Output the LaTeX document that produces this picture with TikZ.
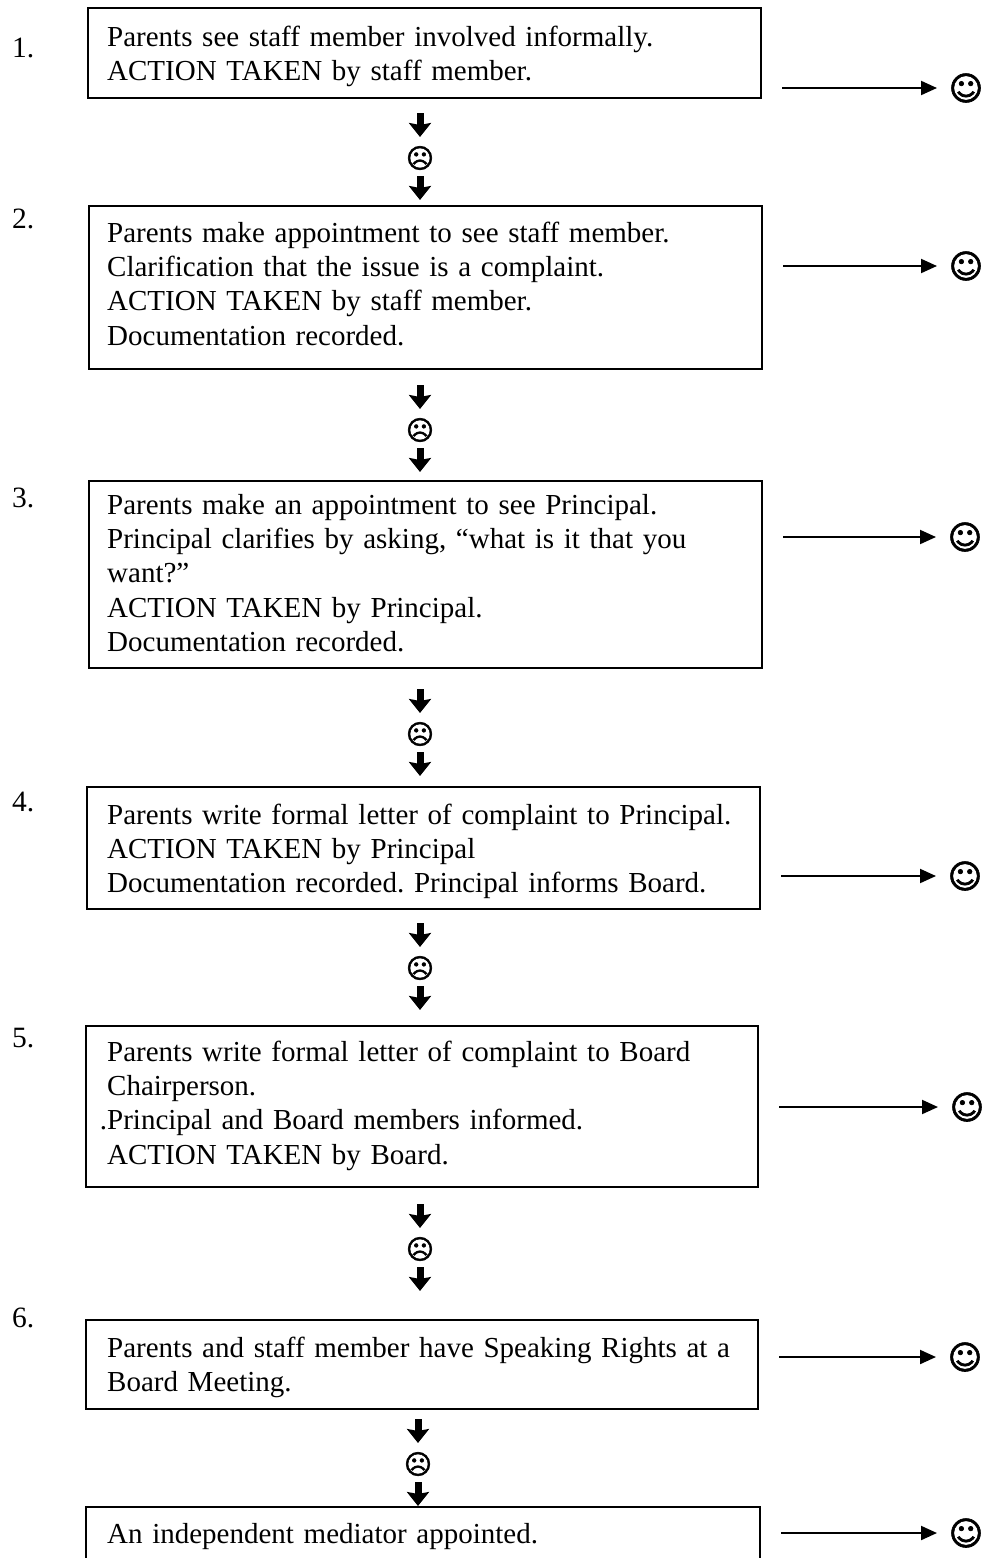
\documentclass[tikz,border=0pt]{standalone}
\usepackage{fontspec}
\setmainfont{Liberation Serif}
\newfontfamily\symf{DejaVu Sans}[FakeBold=2]
\usetikzlibrary{arrows.meta}
\tikzset{
  box/.style={draw, line width=2pt, inner sep=0pt, anchor=north west},
  txt/.style={anchor=base west, inner sep=0pt, text width=660pt, align=left,
    font=\fontsize{29}{34.4}\selectfont\frenchspacing},
  num/.style={anchor=base west, inner sep=0pt, font=\fontsize{29.5}{34.4}\selectfont},
  happy/.style={inner sep=0pt, font=\symf\fontsize{33}{33}\selectfont},
  sad/.style={inner sep=0pt, font=\symf\fontsize{27}{27}\selectfont},
  dn/.style={line width=7pt, -{Stealth[length=14pt,width=22pt,inset=2pt]}},
  rarr/.style={line width=2pt, -{Triangle[length=16pt,width=14pt]}, shorten <=20pt, shorten >=29pt}
}
\begin{document}
\begin{tikzpicture}[x=1pt,y=-1pt]
\clip (0,0) rectangle (986,1558);
\fill[white] (0,0) rectangle (986,1558);
% boxes
\node[box, minimum width=673pt, minimum height=90pt] (b1) at (87,7) {};
\node[box, minimum width=673pt, minimum height=163pt] (b2) at (88,205) {};
\node[box, minimum width=673pt, minimum height=187pt] (b3) at (88,480) {};
\node[box, minimum width=673pt, minimum height=122pt] (b4) at (86,786) {};
\node[box, minimum width=672pt, minimum height=161pt] (b5) at (85,1025) {};
\node[box, minimum width=672pt, minimum height=89pt] (b6) at (85,1319) {};
\node[box, minimum width=674pt, minimum height=120pt] (b7) at (85,1506) {};
% texts
\node[txt] (t1) at (107,46) {Parents see staff member involved informally.\\ACTION TAKEN by staff member.};
\node[txt] (t2) at (107,242) {Parents make appointment to see staff member.\\Clarification that the issue is a complaint.\\ACTION TAKEN by staff member.\\Documentation recorded.};
\node[txt] (t3) at (107,514) {Parents make an appointment to see Principal.\\Principal clarifies by asking, “what is it that you\\want?”\\ACTION TAKEN by Principal.\\Documentation recorded.};
\node[txt] (t4) at (107,824) {Parents write formal letter of complaint to Principal.\\ACTION TAKEN by Principal\\Documentation recorded. Principal informs Board.};
\node[txt] (t5) at (107,1061) {Parents write formal letter of complaint to Board\\Chairperson.\\\leavevmode\llap{.}Principal and Board members informed.\\ACTION TAKEN by Board.};
\node[txt] (t6) at (107,1357) {Parents and staff member have Speaking Rights at a\\Board Meeting.};
\node[txt] (t7) at (107,1543) {An independent mediator appointed.};
% numbers
\node[num] (n1) at (12,57) {1.};
\node[num] (n2) at (12,228) {2.};
\node[num] (n3) at (12,507) {3.};
\node[num] (n4) at (12,811) {4.};
\node[num] (n5) at (12,1047) {5.};
\node[num] (n6) at (12,1327) {6.};
% frowns
\node[sad] (f1) at (420,158) {☹};
\node[sad] (f2) at (420,430) {☹};
\node[sad] (f3) at (420,734) {☹};
\node[sad] (f4) at (420,968) {☹};
\node[sad] (f5) at (420,1249) {☹};
\node[sad] (f6) at (418,1464) {☹};
\foreach \f in {f1,f2,f3,f4,f5,f6}{
  \draw[dn] ([yshift=45pt]\f.center) -- ([yshift=21pt]\f.center);
  \draw[dn] ([yshift=-18pt]\f.center) -- ([yshift=-42pt]\f.center);
}
% smileys
\node[happy] (s1) at (966,88) {☺};
\node[happy] (s2) at (966,266) {☺};
\node[happy] (s3) at (965,537) {☺};
\node[happy] (s4) at (965,876) {☺};
\node[happy] (s5) at (967,1107) {☺};
\node[happy] (s6) at (965,1357) {☺};
\node[happy] (s7) at (966,1533) {☺};
\draw[rarr] (b1.east |- s1) -- (s1.center);
\draw[rarr] (b2.east |- s2) -- (s2.center);
\draw[rarr] (b3.east |- s3) -- (s3.center);
\draw[rarr] (b4.east |- s4) -- (s4.center);
\draw[rarr] (b5.east |- s5) -- (s5.center);
\draw[rarr] (b6.east |- s6) -- (s6.center);
\draw[rarr] (b7.east |- s7) -- (s7.center);
\end{tikzpicture}
\end{document}
